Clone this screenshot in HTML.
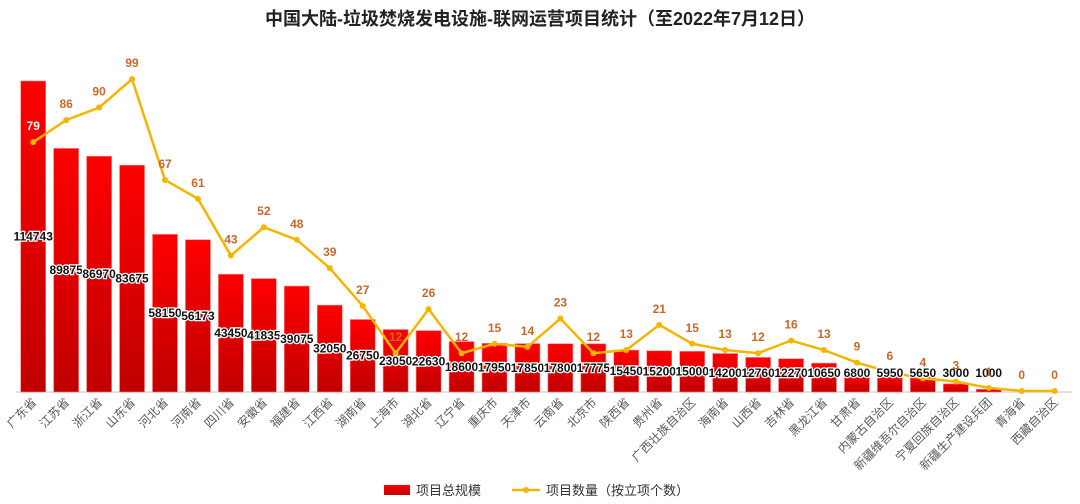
<!DOCTYPE html>
<html><head><meta charset="utf-8"><style>
html,body{margin:0;padding:0;background:#fff;width:1080px;height:504px;overflow:hidden}
svg text{font-family:"Liberation Sans","Noto Sans CJK SC",sans-serif}
</style></head><body>
<svg id="c" width="1080" height="504" viewBox="0 0 1080 504" xmlns="http://www.w3.org/2000/svg">
<defs><linearGradient id="g" x1="0" y1="0" x2="0" y2="1"><stop offset="0" stop-color="#ff0000"/><stop offset="1" stop-color="#c00000"/></linearGradient></defs>
<text x="540" y="25" text-anchor="middle" font-size="18" font-weight="bold" fill="#222">中国大陆-垃圾焚烧发电设施-联网运营项目统计（至2022年7月12日）</text>
<line x1="16" y1="392" x2="1072" y2="392" stroke="#d9d9d9" stroke-width="1.5"/>
<g id="bars"></g><g id="line"></g><g id="lbl"></g>
<rect x="384" y="485" width="26" height="10" fill="url(#g)"/>
<text x="416" y="495" font-size="13" fill="#333">项目总规模</text>
<line x1="512" y1="490" x2="540" y2="490" stroke="#f4b400" stroke-width="2.5"/>
<circle cx="526" cy="490" r="3" fill="#f4b400"/>
<text x="546" y="495" font-size="13" fill="#333">项目数量（按立项个数）</text>
</svg>
<script>
var cats="广东省,江苏省,浙江省,山东省,河北省,河南省,四川省,安徽省,福建省,江西省,湖南省,上海市,湖北省,辽宁省,重庆市,天津市,云南省,北京市,陕西省,贵州省,广西壮族自治区,海南省,山西省,吉林省,黑龙江省,甘肃省,内蒙古自治区,新疆维吾尔自治区,宁夏回族自治区,新疆生产建设兵团,青海省,西藏自治区".split(",");
var bv=[114743,89875,86970,83675,58150,56173,43450,41835,39075,32050,26750,23050,22630,18600,17950,17850,17800,17775,15450,15200,15000,14200,12760,12270,10650,6800,5950,5650,3000,1000,0,0];
var lv=[79,86,90,99,67,61,43,52,48,39,27,12,26,12,15,14,23,12,13,21,15,13,12,16,13,9,6,4,3,1,0,0];
var ns="http://www.w3.org/2000/svg";
function el(p,t,a,txt){var e=document.createElementNS(ns,t);for(var k in a)e.setAttribute(k,a[k]);if(txt!=null)e.textContent=txt;document.getElementById(p).appendChild(e);return e;}
var pts=[];
for(var i=0;i<32;i++){
 var cx=33.2+i*32.95, h=bv[i]/114743*311, y=392-h;
 if(h>0)el("bars","rect",{x:cx-12.5,y:y,width:25,height:h,fill:"url(#g)",stroke:"#ff8080","stroke-width":0.6});
 var ly=391-3.15*lv[i]; pts.push(cx+","+ly);
 var by=Math.min(y+h/2,373);
 el("lbl","text",{x:cx,y:by+4,"text-anchor":"middle","font-size":"12","font-weight":"bold",fill:"#111",stroke:"#fff","stroke-width":"2.5","paint-order":"stroke"},bv[i]>0?bv[i]:null);
 el("lbl","text",{x:cx,y:ly-12,"text-anchor":"middle","font-size":"12","font-weight":"bold",fill:i==0?"#fff":"#c8682a"},lv[i]);
 el("lbl","text",{x:cx+4,y:403,"text-anchor":"end","font-size":"12",fill:"#595959",transform:"rotate(-45 "+(cx+4)+" 403)"},cats[i]);
}
el("line","polyline",{points:pts.join(" "),fill:"none",stroke:"#f4b400","stroke-width":"2.5"});
pts.forEach(function(p){var q=p.split(",");el("line","circle",{cx:q[0],cy:q[1],r:3,fill:"#f4b400"});});
</script>
</body></html>
